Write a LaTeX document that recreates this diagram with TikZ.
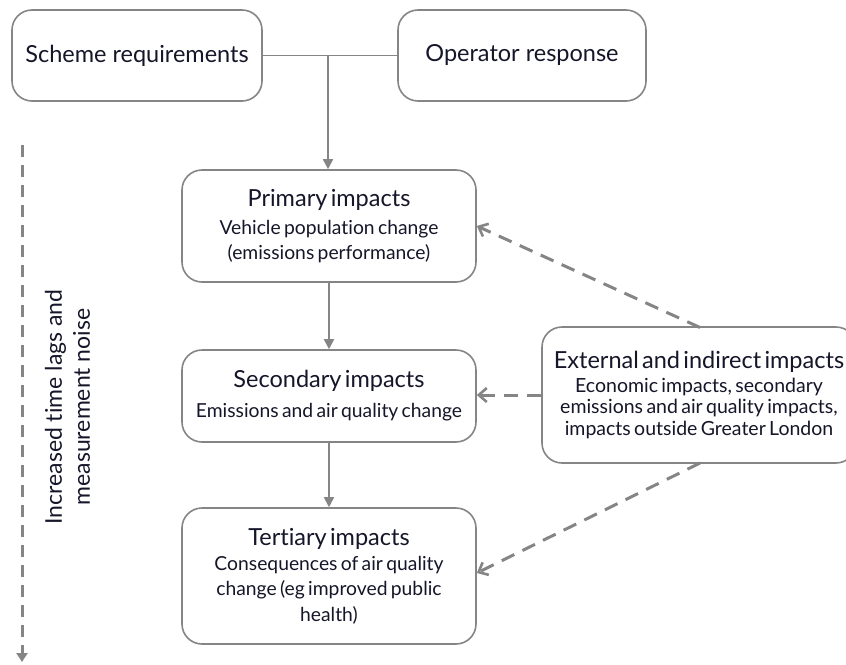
\documentclass[tikz,border=0pt]{standalone}
\usepackage{fontspec}
\setmainfont[Ligatures=NoCommon]{Lato}
\usetikzlibrary{arrows.meta,calc}
\definecolor{linegray}{HTML}{858585}
\definecolor{ink}{HTML}{16162A}
\newcommand{\headsize}{\fontsize{23.5}{28}\selectfont}
\newcommand{\bodysize}[1]{\fontsize{19.3}{#1}\selectfont}
\begin{document}
\begin{tikzpicture}[x=1pt,y=-1pt,
  box/.style={draw=linegray, line width=1.6pt, rounded corners=20pt,
    fill=white, text=ink, align=center, inner sep=0pt},
  titlefont/.style={font=\headsize},
  flow/.style={draw=linegray, line width=1.8pt,
    -{Triangle[length=10pt,width=10pt]}},
  feed/.style={draw=linegray, line width=3pt, dash pattern=on 14pt off 9pt,
    -{Straight Barb[length=8pt,width=14pt,line width=2.6pt]}},
  lag/.style={draw=linegray, line width=3pt, dash pattern=on 12pt off 8pt,
    -{Triangle[length=9pt,width=11pt]}}
]
\useasboundingbox (0,0) rectangle (846,664);

% top row
\node[box, titlefont, minimum width=250pt, minimum height=91pt]
  (scheme) at (137,55.5) {Scheme requirements};
\node[box, titlefont, minimum width=248pt, minimum height=91pt]
  (operator) at (522,55.5) {Operator response};
\coordinate (join) at (328,55.5);

% impact chain
\node[box, text width=290pt, minimum width=294pt, minimum height=112pt]
  (primary) at (329,226)
  {{\headsize Primary impacts\par}\vspace{3pt}
   {\bodysize{25}Vehicle population change\par (emissions performance)\par}};
\node[box, text width=290pt, minimum width=294pt, minimum height=92pt]
  (secondary) at (329,396)
  {{\headsize Secondary impacts\par}\vspace{5pt}
   {\bodysize{25}Emissions and air quality change\par}};
\node[box, text width=290pt, minimum width=294pt, minimum height=136pt]
  (tertiary) at (329,576)
  {{\headsize Tertiary impacts\par}
   {\bodysize{25}Consequences of air quality\par change (eg improved public\par}
   \vspace{1pt}{\bodysize{25}health)\par}};

% external influences (title runs slightly past the box edge)
\node[box, text width=314pt, minimum width=314pt, minimum height=136pt]
  (external) at (699,395)
  {{\headsize\makebox[\linewidth][c]{External and indirect impacts}\par}\vspace{2.5pt}
   {\fontsize{19.5}{21.5}\selectfont Economic impacts, secondary\par
    emissions and air quality impacts,\par impacts outside Greater London\par}};

% solid connectors
\draw[draw=linegray, line width=1.8pt] (scheme.east) -- (operator.west);
\draw[flow] (join) -- (primary.north -| join);
\draw[flow] (primary.south) -- (secondary.north);
\draw[flow] (secondary.south) -- (tertiary.north);

% dashed feedback connectors
\coordinate (extTop) at (700,327.5);
\coordinate (extBot) at (700,463);
\draw[feed] (extTop) -- (primary.east);
\draw[feed] (external.west) -- (secondary.east |- external.west);
\draw[feed] (extBot) -- ($(tertiary.east)+(0,-3)$);

% time-lag axis
\coordinate (lagTop) at (22,145);
\coordinate (lagBot) at (22,662);
\draw[lag] (lagTop) -- (lagBot);
\node[text=ink, align=center, rotate=90, font=\fontsize{23}{28}\selectfont]
  (lagText) at (67.5,407) {Increased time lags and\\measurement noise};
\end{tikzpicture}
\end{document}
